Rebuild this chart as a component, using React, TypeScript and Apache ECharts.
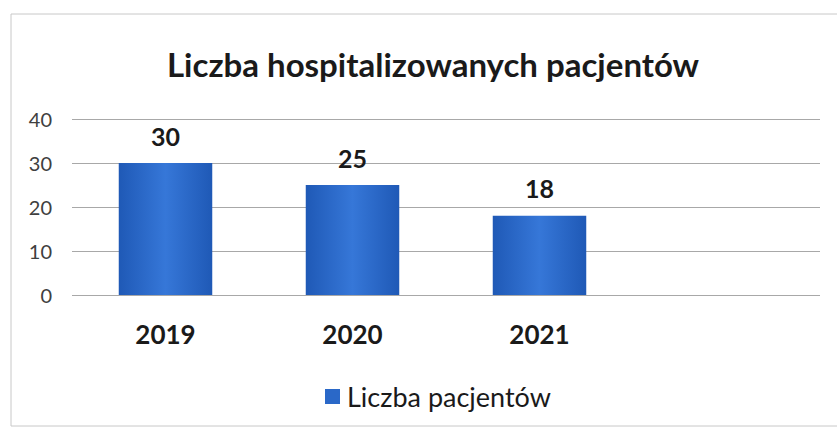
import React, { useEffect, useRef } from "react";
import * as echarts from "echarts";

const categories = ["2019", "2020", "2021", ""];
const patients = [30, 25, 18, null];
const yTicks = { min: 0, max: 40, interval: 10 };
const seriesName = "Liczba pacjentów";
const title = "Liczba hospitalizowanych pacjentów";

export default function App() {
  const ref = useRef<HTMLDivElement>(null);
  useEffect(() => {
    if (!ref.current) return;
    const chart = echarts.init(ref.current, null, { renderer: "svg" });
    const font = "Lato, 'Open Sans', sans-serif";
    const barColor = new echarts.graphic.LinearGradient(0, 0, 1, 0, [
      { offset: 0, color: "#1f59b6" },
      { offset: 0.5, color: "#3677d8" },
      { offset: 1, color: "#1f59b6" },
    ]);
    chart.setOption({
      animation: false,
      backgroundColor: "#ffffff",
      textStyle: { fontFamily: font },
      title: {
        text: title,
        left: 428,
        textAlign: "center",
        top: 42,
        textStyle: { fontSize: 33, fontWeight: "bold", color: "#1a1a1a", fontFamily: font },
      },
      grid: { left: 72, right: 17, top: 119, height: 176, containLabel: false },
      legend: {
        top: 378,
        left: 320,
        itemWidth: 15,
        itemHeight: 15,
        icon: "rect",
        itemGap: 6,
        textStyle: { fontSize: 27, color: "#1a1a1a", fontFamily: font, padding: [0, 0, 0, 2] },
        data: [{ name: seriesName, itemStyle: { color: "#2a68c8" } }],
      },
      xAxis: {
        type: "category",
        data: categories,
        axisLine: { show: false },
        axisTick: { show: false },
        axisLabel: { fontSize: 26, fontWeight: "bold", color: "#1a1a1a", margin: 26 },
      },
      yAxis: {
        type: "value",
        min: yTicks.min,
        max: yTicks.max,
        interval: yTicks.interval,
        axisLine: { show: false },
        axisTick: { show: false },
        axisLabel: { fontSize: 20, color: "#404040", margin: 20 },
        splitLine: { lineStyle: { color: "#a8a8a8", width: 1 } },
      },
      series: [
        {
          name: seriesName,
          type: "bar",
          data: patients,
          barCategoryGap: "50%",
          itemStyle: { color: barColor },
          label: {
            show: true,
            position: "top",
            distance: 15,
            fontSize: 25,
            fontWeight: "bold",
            color: "#1a1a1a",
          },
        },
      ],
      graphic: [
        {
          type: "rect",
          shape: { x: 11, y: 14, width: 840, height: 412 },
          style: { fill: "none", stroke: "#c8c8c8", lineWidth: 1 },
          silent: true,
        },
      ],
    });
    return () => chart.dispose();
  }, []);
  return <div ref={ref} style={{ width: 837, height: 432, position: "absolute", left: 0, top: 0 }} />;
}
